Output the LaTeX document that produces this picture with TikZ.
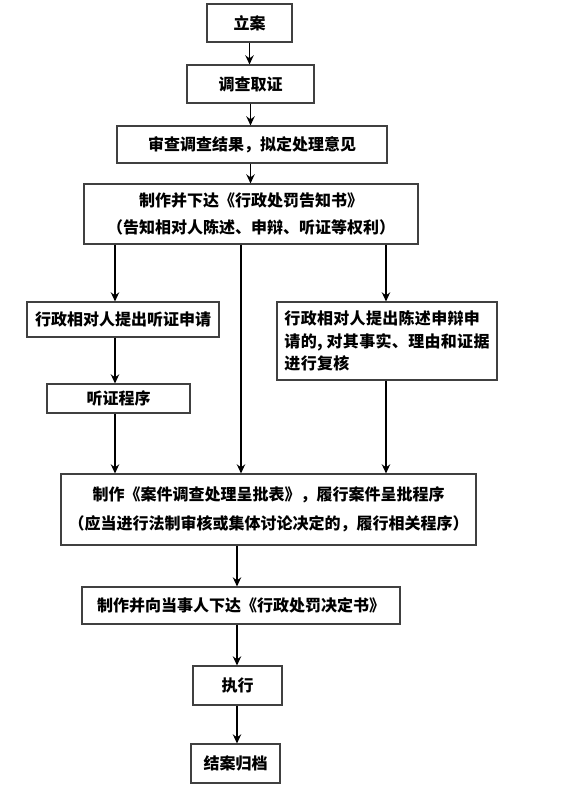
\documentclass[tikz,border=0pt]{standalone}
\usepackage{fontspec}
\setmainfont{Noto Sans CJK SC}
\newfontfamily\cjkwide{Noto Sans CJK SC}[LetterSpace=2]
\usetikzlibrary{arrows.meta,positioning,calc}
\tikzset{
  stepbox/.style={draw=black!75, line width=0.8pt, fill=white, inner sep=0pt,
                  align=center, font=\fontsize{12}{17}\selectfont\bfseries},
  arr/.style={-{Stealth[length=2.4mm, width=2.2mm]}, line width=1.1pt, color=black}}

\begin{document}
\begin{tikzpicture}[x=0.75pt, y=-0.75pt]
    \useasboundingbox (0,0) rectangle (561,798);
    % main column, top
    \node[stepbox, minimum width=63.75pt, minimum height=28.5pt] (lian) at (249.5,23) {立案};
    \node[stepbox, minimum width=95.25pt, minimum height=28.5pt] (diaocha) at (250.5,84) {调查取证};
    \node[stepbox, minimum width=202.5pt, minimum height=27.75pt] (shencha) at (252,144.5)
      {审查调查结果，拟定处理意见};
    \node[stepbox, minimum width=250.5pt, minimum height=45pt,
          font=\fontsize{12}{20}\selectfont\bfseries] (gaozhi) at (251,214)
      {制作并下达《行政处罚告知书》\\（告知相对人陈述、申辩、听证等权利）};
    % branches
    \node[stepbox, minimum width=144pt, minimum height=26.25pt] (tzsq) at (123,319.5)
      {行政相对人提出听证申请};
    \node[stepbox, minimum width=107.25pt, minimum height=21.75pt] (tingzheng) at (118.5,398.5)
      {听证程序};
    \node[stepbox, align=left, minimum width=165pt, minimum height=58.5pt,
          font=\fontsize{12}{17}\selectfont\bfseries\cjkwide] (chenshu) at (387,341)
      {行政相对人提出陈述申辩申\\请的, 对其事实、理由和证据\\进行复核};
    % main column, bottom
    \node[stepbox, minimum width=311.25pt, minimum height=53.25pt,
          font=\fontsize{12}{22}\selectfont\bfseries] (chengpi) at (268.5,509.5)
      {制作《案件调查处理呈批表》，履行案件呈批程序\\（应当进行法制审核或集体讨论决定的，履行相关程序）};
    \node[stepbox, minimum width=238.5pt, minimum height=27.75pt] (jueding) at (241,605.5)
      {制作并向当事人下达《行政处罚决定书》};
    \node[stepbox, minimum width=66.75pt, minimum height=29.25pt] (zhixing) at (237.5,685.5) {执行};
    \node[stepbox, minimum width=66.75pt, minimum height=29.25pt] (guidang) at (235.5,763.5) {结案归档};

    \coordinate (colL) at (115,0);
    \coordinate (colM) at (241,0);
    \coordinate (colR) at (386,0);
    \coordinate (colB) at (237,0);

    \draw[arr] (lian.south) -- (lian.south |- diaocha.north);
    \draw[arr] (diaocha.south) -- (diaocha.south |- shencha.north);
    \draw[arr] (shencha.south -| diaocha.south) -- (diaocha.south |- gaozhi.north);
    \draw[arr] (colL |- gaozhi.south) -- (colL |- tzsq.north);
    \draw[arr] (colL |- tzsq.south) -- (colL |- tingzheng.north);
    \draw[arr] (colL |- tingzheng.south) -- (colL |- chengpi.north);
    \draw[arr] (colM |- gaozhi.south) -- (colM |- chengpi.north);
    \draw[arr] (colR |- gaozhi.south) -- (colR |- chenshu.north);
    \draw[arr] (colR |- chenshu.south) -- (colR |- chengpi.north);
    \draw[arr] (colB |- chengpi.south) -- (colB |- jueding.north);
    \draw[arr] (colB |- jueding.south) -- (colB |- zhixing.north);
    \draw[arr] (colB |- zhixing.south) -- (colB |- guidang.north);
  \end{tikzpicture}
\end{document}
